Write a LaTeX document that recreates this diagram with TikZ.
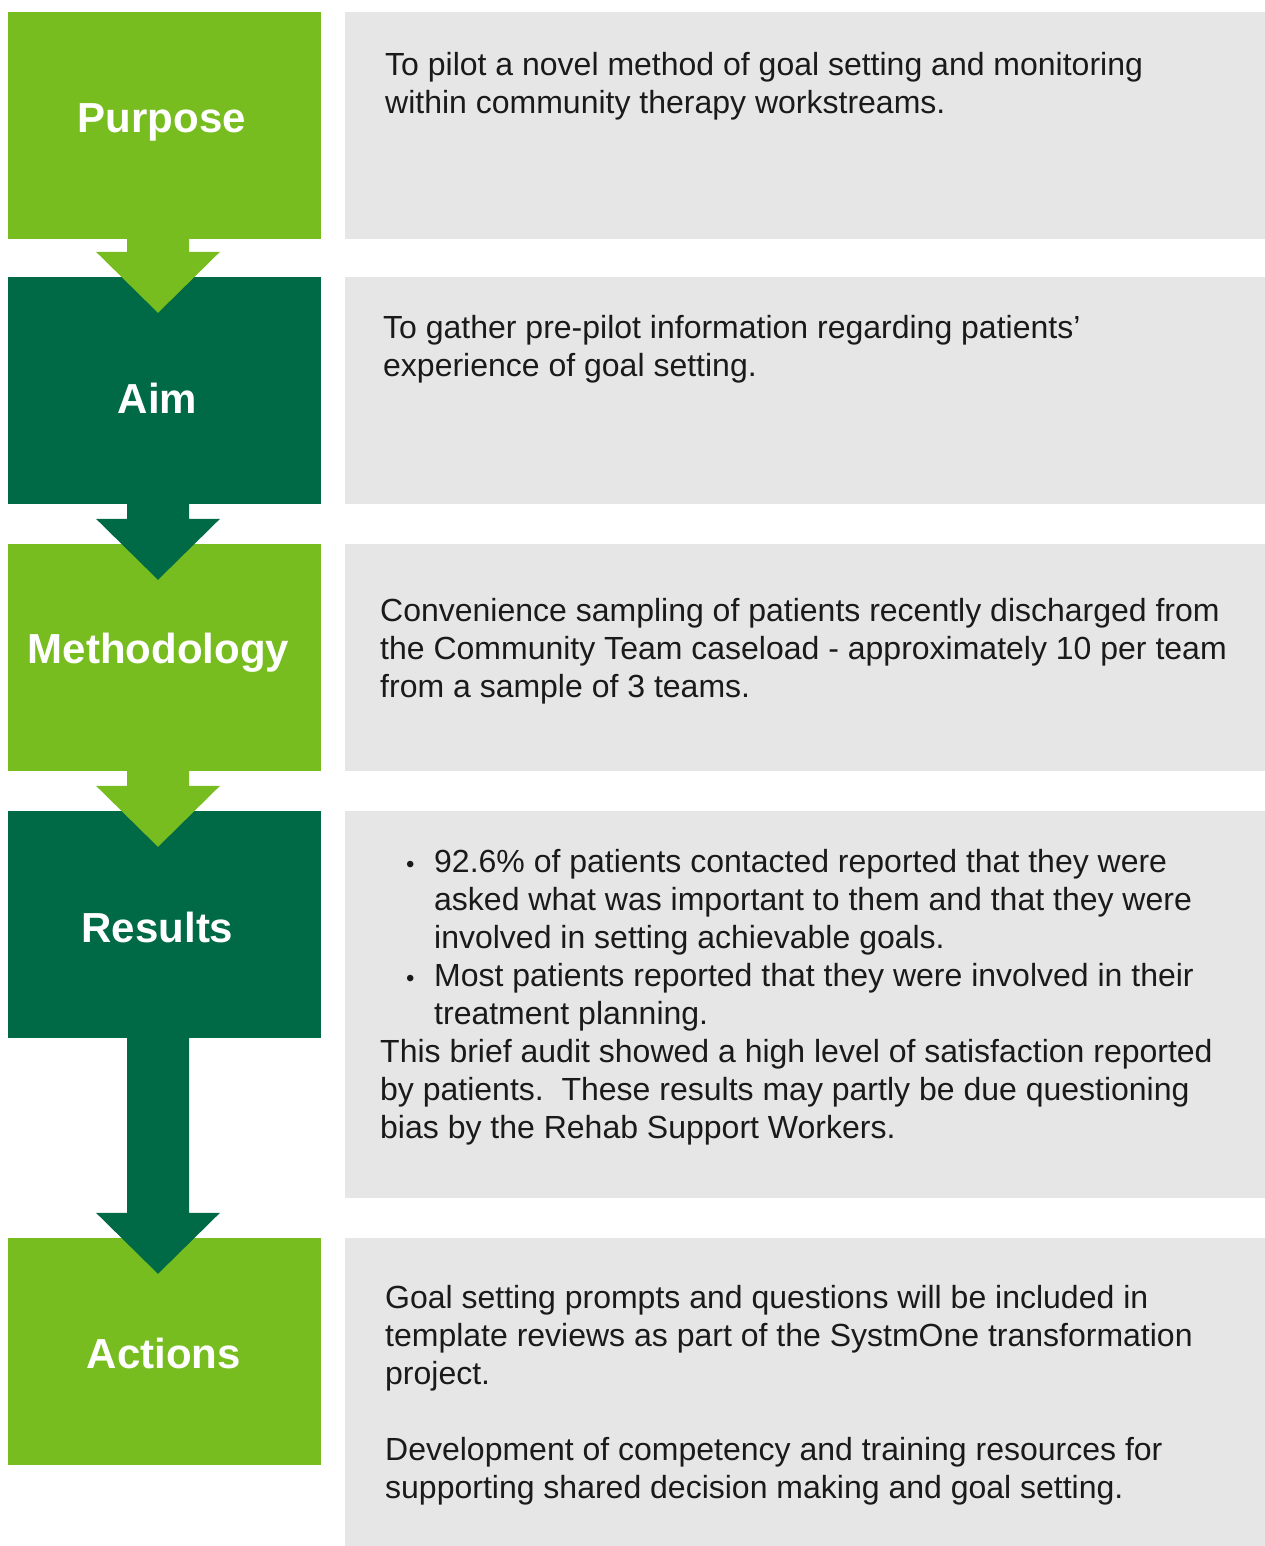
\documentclass[tikz,border=0pt]{standalone}
\usepackage{fontspec}
\setmainfont{Liberation Sans}
\usepackage{xcolor}
\usepackage{tikz}
\usetikzlibrary{calc}
\definecolor{pgreen}{HTML}{78BD20}
\definecolor{dgreen}{HTML}{006946}
\definecolor{panelgray}{HTML}{E6E6E6}
\definecolor{bodyink}{HTML}{1A1A1A}

% step arrow from the bottom of one box into the top of the next
\newcommand{\steparrow}[3]{%
  \fill[#3] ([xshift=-37.5pt]#1.south) -- ([xshift=24.5pt]#1.south)
    -- ([xshift=24.5pt,yshift=25pt]#2.north) -- ([xshift=55.5pt,yshift=25pt]#2.north)
    -- ([xshift=-6.5pt,yshift=-36pt]#2.north)
    -- ([xshift=-68.5pt,yshift=25pt]#2.north) -- ([xshift=-37.5pt,yshift=25pt]#2.north) -- cycle;}
\newcommand{\bul}{\rlap{\hspace{26pt}\fontsize{24}{24}\selectfont\textbullet}\hspace*{54pt}}

\begin{document}
\begin{tikzpicture}[x=1pt,y=-1pt,
  stagebox/.style={minimum width=313pt,minimum height=227pt,inner sep=0pt,draw=none},
  panel/.style={fill=panelgray,minimum width=920pt,inner sep=0pt,draw=none},
  stagelabel/.style={anchor=base,inner sep=0pt,text=white,font=\fontsize{42}{48}\selectfont\bfseries},
  bodytext/.style={anchor=base west,align=left,inner sep=0pt,text=bodyink,font=\fontsize{32}{38}\selectfont}]
  \useasboundingbox (0,0) rectangle (1265,1546);

  % left column
  \node[stagebox,fill=pgreen] (purpose) at (164.5,125.5) {};
  \node[stagebox,fill=dgreen] (aim) at (164.5,390.5) {};
  \node[stagebox,fill=pgreen] (method) at (164.5,657.5) {};
  \node[stagebox,fill=dgreen] (results) at (164.5,924.5) {};
  \node[stagebox,fill=pgreen] (actions) at (164.5,1351.5) {};

  \steparrow{purpose}{aim}{pgreen}
  \steparrow{aim}{method}{dgreen}
  \steparrow{method}{results}{pgreen}
  \steparrow{results}{actions}{dgreen}

  \node[stagelabel] (purposeLbl) at (162,133) {Purpose};
  \node[stagelabel] (aimLbl) at (157.5,413) {Aim};
  \node[stagelabel] (methodLbl) at (158.5,663) {Methodology};
  \node[stagelabel] (resultsLbl) at (157.5,942) {Results};
  \node[stagelabel] (actionsLbl) at (164,1368) {Actions};

  % right column (text nodes sit on the baseline of their last line)
  \node[panel,minimum height=227pt] (purposePanel) at (805,125.5) {};
  \node[panel,minimum height=227pt] (aimPanel) at (805,390.5) {};
  \node[panel,minimum height=227pt] (methodPanel) at (805,657.5) {};
  \node[panel,minimum height=387pt] (resultsPanel) at (805,1004.5) {};
  \node[panel,minimum height=308pt] (actionsPanel) at (805,1392) {};

  \node[bodytext] (purposeTxt) at (385,114) {To pilot a novel method of goal setting and monitoring\\
    within community therapy workstreams.};
  \node[bodytext] (aimTxt) at (383,376) {To gather pre-pilot information regarding patients’\\
    experience of goal setting.};
  \node[bodytext] (methodTxt) at (380,697) {Convenience sampling of patients recently discharged from\\
    the Community Team caseload - approximately 10 per team\\
    from a sample of 3 teams.};
  \node[bodytext] (resultsTxt) at (380,1138) {\bul 92.6\% of patients contacted reported that they were\\
    \hspace*{54pt}asked what was important to them and that they were\\
    \hspace*{54pt}involved in setting achievable goals.\\
    \bul Most patients reported that they were involved in their\\
    \hspace*{54pt}treatment planning.\\
    This brief audit showed a high level of satisfaction reported\\
    by patients.\ \ These results may partly be due questioning\\
    bias by the Rehab Support Workers.};
  \node[bodytext] (actionsTxt) at (385,1498) {Goal setting prompts and questions will be included in\\
    template reviews as part of the SystmOne transformation\\
    project.\\[38pt]
    Development of competency and training resources for\\
    supporting shared decision making and goal setting.};
\end{tikzpicture}
\end{document}
